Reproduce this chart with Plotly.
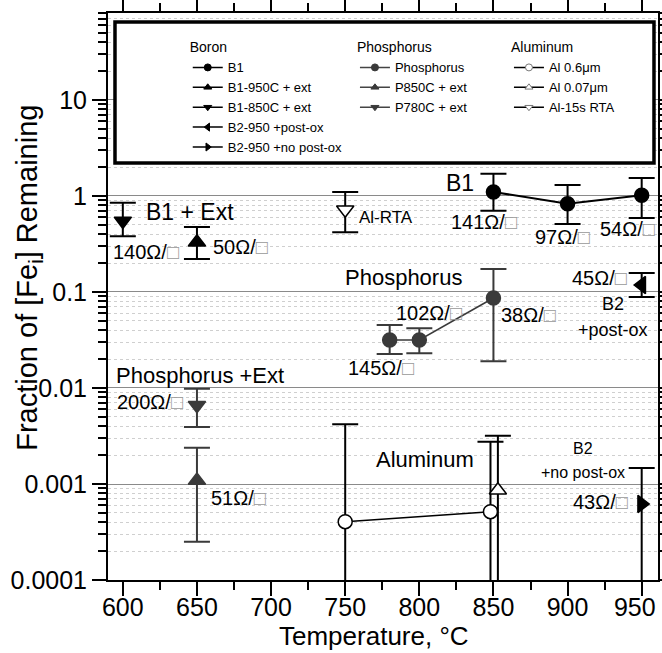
import plotly.graph_objects as go

FONT = "Liberation Sans, Arial, sans-serif"

# ---------------- data ----------------
b1_x = [850, 900, 950]
b1_y = [1.10, 0.83, 1.02]
b1_hi = [1.70, 1.30, 1.54]
b1_lo = [0.70, 0.51, 0.59]

b1_950_x = [650]
b1_950_y = [0.33]
b1_950_hi = [0.475]
b1_950_lo = [0.22]

b1_850_x = [600]
b1_850_y = [0.55]
b1_850_hi = [0.85]
b1_850_lo = [0.38]

b2_post_x = [950]
b2_post_y = [0.118]
b2_post_hi = [0.158]
b2_post_lo = [0.0887]

b2_nopost_x = [950]
b2_nopost_y = [0.00062]
b2_nopost_hi = [0.00147]
b2_nopost_lo = [0.00005]

p_x = [780, 800, 850]
p_y = [0.0316, 0.0316, 0.0866]
p_hi = [0.0453, 0.042, 0.174]
p_lo = [0.0226, 0.023, 0.019]

p850_x = [650]
p850_y = [0.00109]
p850_hi = [0.00239]
p850_lo = [0.000251]

p780_x = [650]
p780_y = [0.0066]
p780_hi = [0.0098]
p780_lo = [0.00393]

al06_x = [750, 848]
al06_y = [0.000405, 0.000515]
al06_hi = [0.00419, 0.00276]
al06_lo = [0.00005, 0.00005]

al007_x = [853]
al007_y = [0.00086]
al007_hi = [0.00318]
al007_lo = [0.00005]

alrta_x = [750]
alrta_y = [0.72]
alrta_hi = [1.1]
alrta_lo = [0.42]

x_ticks = [600, 650, 700, 750, 800, 850, 900, 950]
x_ticktext = ["600", "650", "700", "750", "800", "850", "900", "950\u00a0\u00a0"]
y_ticks = [0.0001, 0.001, 0.01, 0.1, 1, 10]
y_ticktext = ["0.0001", "0.001", "0.01", "0.1", "1", "10"]

BLACK = "black"
GRAY = "#3a3a3a"

fig = go.Figure()


def err(y, hi, lo, color):
    return dict(type="data", symmetric=False,
                array=[h - v for h, v in zip(hi, y)],
                arrayminus=[v - l for v, l in zip(y, lo)],
                color=color, thickness=2, width=13)


def add(x, y, hi, lo, mode, symbol, size, color, fill, lw=2, linecolor=None):
    fig.add_trace(go.Scatter(
        x=x, y=y, mode=mode, showlegend=False,
        line=dict(color=linecolor or color, width=lw),
        marker=dict(symbol=symbol, size=size, color=fill,
                    line=dict(color=color, width=1.5)),
        error_y=err(y, hi, lo, color), cliponaxis=False))


add(al06_x, al06_y, al06_hi, al06_lo, "lines+markers", "circle", 14, BLACK, "white", 1.5)
add(al007_x, al007_y, al007_hi, al007_lo, "markers", "triangle-up", 15, BLACK, "white")
add(alrta_x, alrta_y, alrta_hi, alrta_lo, "markers", "triangle-down", 15, BLACK, "white")
add(b1_x, b1_y, b1_hi, b1_lo, "lines+markers", "circle", 14, BLACK, BLACK, 2)
add(b1_950_x, b1_950_y, b1_950_hi, b1_950_lo, "markers", "triangle-up", 15, BLACK, BLACK)
add(b1_850_x, b1_850_y, b1_850_hi, b1_850_lo, "markers", "triangle-down", 15, BLACK, BLACK)
add(b2_post_x, b2_post_y, b2_post_hi, b2_post_lo, "markers", "triangle-left", 15, BLACK, BLACK)
add(b2_nopost_x, b2_nopost_y, b2_nopost_hi, b2_nopost_lo, "markers", "triangle-right", 15, BLACK, BLACK)
add(p_x, p_y, p_hi, p_lo, "lines+markers", "circle", 14, GRAY, GRAY, 1.5)
add(p850_x, p850_y, p850_hi, p850_lo, "markers", "triangle-up", 15, GRAY, GRAY)
add(p780_x, p780_y, p780_hi, p780_lo, "markers", "triangle-down", 15, GRAY, GRAY)

# ---------------- legend entries ----------------
legend_entries = [
    ("legend", "B1", "circle", BLACK, BLACK),
    ("legend", "B1-950C + ext", "triangle-up", BLACK, BLACK),
    ("legend", "B1-850C + ext", "triangle-down", BLACK, BLACK),
    ("legend", "B2-950 +post-ox", "triangle-left", BLACK, BLACK),
    ("legend", "B2-950 +no post-ox", "triangle-right", BLACK, BLACK),
    ("legend2", "Phosphorus", "circle", GRAY, GRAY),
    ("legend2", "P850C + ext", "triangle-up", GRAY, GRAY),
    ("legend2", "P780C + ext", "triangle-down", GRAY, GRAY),
    ("legend3", "Al 0.6μm", "circle", "#777", "white"),
    ("legend3", "Al 0.07μm", "triangle-up", "#777", "white"),
    ("legend3", "Al-15s RTA", "triangle-down", "#777", "white"),
]
for lg, name, sym, col, fill in legend_entries:
    fig.add_trace(go.Scatter(
        x=[None], y=[None], mode="lines+markers", name=name, legend=lg,
        line=dict(color=BLACK if lg != "legend2" else "#444", width=1.5),
        marker=dict(symbol=sym, size=7, color=fill, line=dict(color=col, width=1))))

# ---------------- annotations ----------------
SQ = "Ω/<span style='color:#999'>□</span>"
labels = [
    ("B1 + Ext", 645.3, -0.167, 23, "center"),
    ("140" + SQ, 615.5, -0.583, 20, "center"),
    ("50" + SQ, 679.7, -0.531, 20, "center"),
    ("Al-RTA", 758.1, -0.219, 17, "left"),
    ("B1", 827.7, 0.135, 23, "center"),
    ("141" + SQ, 843.9, -0.271, 20, "center"),
    ("97" + SQ, 896.6, -0.427, 20, "center"),
    ("54" + SQ, 940.5, -0.344, 20, "center"),
    ("Phosphorus", 789.2, -0.844, 22, "center"),
    ("145" + SQ, 774.3, -1.792, 20, "center"),
    ("102" + SQ, 806.8, -1.219, 20, "center"),
    ("38" + SQ, 873.6, -1.24, 20, "center"),
    ("45" + SQ, 921.6, -0.854, 20, "center"),
    ("B2", 930.4, -1.125, 18, "center"),
    ("+post-ox", 930.4, -1.396, 18, "center"),
    ("Phosphorus +Ext", 652.0, -1.875, 22, "center"),
    ("200" + SQ, 618.2, -2.146, 20, "center"),
    ("51" + SQ, 677.7, -3.15, 20, "center"),
    ("Aluminum", 804.0, -2.75, 22, "center"),
    ("B2", 910.1, -2.635, 16, "center"),
    ("+no post-ox", 910.1, -2.882, 16, "center"),
    ("43" + SQ, 922.3, -3.1875, 20, "center"),
]
annotations = [dict(text=t, x=x, y=y, xref="x", yref="y", showarrow=False,
                    xanchor=xa, yanchor="middle",
                    font=dict(size=s, color="black", family=FONT))
               for t, x, y, s, xa in labels]
# axis titles
annotations.append(dict(text="Fraction of [Fe<sub>i</sub>] Remaining",
                        xref="paper", yref="paper", x=-0.1436, y=0.533,
                        xanchor="center", yanchor="middle", textangle=-90,
                        showarrow=False,
                        font=dict(size=29, color="black", family=FONT)))
annotations.append(dict(text="Temperature, °C",
                        xref="paper", yref="paper", x=0.483, y=-0.1287,
                        xanchor="center", yanchor="bottom",
                        showarrow=False,
                        font=dict(size=26, color="black", family=FONT)))

minor_y = [k * 10.0 ** e for e in range(-4, 2) for k in range(2, 10)]

legend_common = dict(bgcolor="rgba(0,0,0,0)", borderwidth=0, itemwidth=30,
                     font=dict(size=13, color="black", family=FONT),
                     xanchor="left", yanchor="top", tracegroupgap=0,
                     itemclick=False)

fig.update_layout(
    width=662, height=653,
    margin=dict(l=108, r=4, t=13, b=73, autoexpand=False),
    paper_bgcolor="white", plot_bgcolor="white",
    font=dict(family=FONT, color="black"),
    annotations=annotations,
    shapes=[dict(type="rect", xref="paper", yref="paper",
                 x0=0.0127, x1=0.9927, y0=0.7354, y1=0.9841,
                 line=dict(color="black", width=3.5), fillcolor="white",
                 layer="above")],
    legend=dict(x=0.145, y=0.9625,
                title=dict(text="Boron", font=dict(size=14, family=FONT)),
                **legend_common),
    legend2=dict(x=0.449, y=0.9625,
                 title=dict(text="Phosphorus", font=dict(size=14, family=FONT)),
                 **legend_common),
    legend3=dict(x=0.729, y=0.9625,
                 title=dict(text="Aluminum", font=dict(size=14, family=FONT)),
                 **legend_common),
    xaxis=dict(range=[590, 961], tickmode="array", tickvals=x_ticks,
               ticktext=x_ticktext,
               automargin=False, ticklabelstandoff=-10, ticklabeloverflow="allow",
               ticks="outside", ticklen=14, tickwidth=2, tickcolor="black",
               showline=True, linewidth=2, linecolor="black", mirror="ticks",
               showgrid=False, zeroline=False,
               minor=dict(ticks="outside", ticklen=8, tickwidth=2,
                          tickcolor="black", dtick=25, tick0=0, showgrid=False),
               tickfont=dict(size=25, family=FONT, color="black")),
    yaxis=dict(type="log", range=[-4, 1.906], tickmode="array",
               tickvals=y_ticks, ticktext=y_ticktext, automargin=False,
               ticks="outside", ticklen=14, tickwidth=2, tickcolor="black",
               showline=True, linewidth=2, linecolor="black", mirror="ticks",
               showgrid=True, gridcolor="#8a8a8a", gridwidth=1, zeroline=False,
               minor=dict(tickmode="array", tickvals=minor_y, ticks="outside",
                          ticklen=8, tickwidth=1.5, tickcolor="black",
                          showgrid=True, gridcolor="#cfcfcf", griddash="dot",
                          gridwidth=1),
               tickfont=dict(size=25, family=FONT, color="black")),
)

fig.write_html("out.html", config={"displayModeBar": False},
               post_script="document.body.style.margin='0';document.body.style.overflow='hidden';")
